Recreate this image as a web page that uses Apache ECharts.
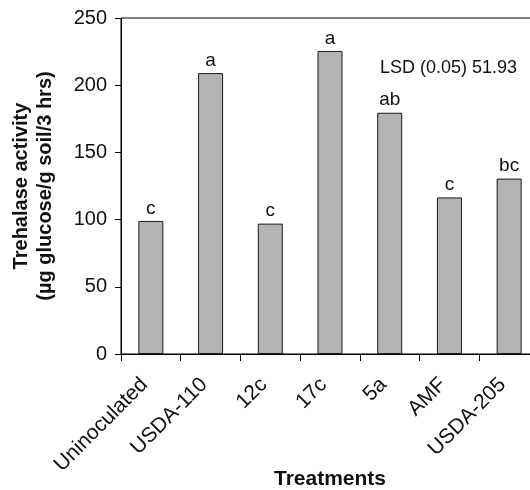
<!DOCTYPE html>
<html>
<head>
<meta charset="utf-8">
<script src="https://cdn.jsdelivr.net/npm/echarts@6/dist/echarts.min.js"></script>
<style>html,body{margin:0;padding:0;background:#fff;}#c{width:530px;height:490px;}</style>
</head>
<body>
<div id="c"></div>
<script>
const categories = ["Uninoculated", "USDA-110", "12c", "17c", "5a", "AMF", "USDA-205"];
const values = [99, 209, 97, 225.5, 179.5, 116.5, 130.5];
const letters = ["c", "a", "c", "a", "ab", "c", "bc"];
const yTicks = [0, 50, 100, 150, 200, 250];
const lsdText = "LSD (0.05) 51.93";

const FONT = "'Liberation Sans', Arial, Helvetica, sans-serif";
const chart = echarts.init(document.getElementById('c'), null, {renderer: 'canvas'});
chart.setOption({
  animation: false,
  backgroundColor: '#ffffff',
  grid: {left: 121, top: 18, bottom: 136, right: -9, containLabel: false, outerBoundsMode: 'none', show: true, borderColor: '#000', borderWidth: 1, backgroundColor: 'transparent'},
  xAxis: {
    type: 'category',
    data: categories,
    boundaryGap: true,
    axisLine: {lineStyle: {color: '#000', width: 1}},
    axisTick: {show: true, inside: false, length: 7, alignWithLabel: false, lineStyle: {color: '#000'}},
    axisLabel: {rotate: 45, fontSize: 21, color: '#111', fontFamily: FONT, margin: 21, padding: [0, 9, 0, 0], interval: 0},
    name: 'Treatments',
    nameLocation: 'middle',
    nameGap: 115,
    nameMoveOverlap: false,
    nameTextStyle: {fontSize: 21, fontWeight: 'bold', color: '#111', fontFamily: FONT}
  },
  yAxis: {
    type: 'value',
    min: yTicks[0],
    max: yTicks[yTicks.length - 1],
    interval: 50,
    splitLine: {show: false},
    axisLine: {show: true, lineStyle: {color: '#000', width: 1}},
    axisTick: {show: true, length: 6, lineStyle: {color: '#000'}},
    axisLabel: {fontSize: 20, color: '#111', fontFamily: FONT, margin: 14},
    name: 'Trehalase activity\n(µg glucose/g soil/3 hrs)',
    nameLocation: 'middle',
    nameRotate: 90,
    nameGap: 64,
    nameMoveOverlap: false,
    nameTextStyle: {fontSize: 20, fontWeight: 'bold', color: '#111', fontFamily: FONT, lineHeight: 24}
  },
  series: [{
    type: 'bar',
    data: values,
    barWidth: 25,
    itemStyle: {color: '#b3b3b3', borderColor: '#1a1a1a', borderWidth: 1},
    label: {
      show: true,
      position: 'top',
      distance: 3,
      fontSize: 19,
      color: '#111',
      fontFamily: FONT,
      formatter: p => letters[p.dataIndex]
    }
  }],
  graphic: [{
    type: 'text',
    left: 380,
    top: 59,
    style: {text: lsdText, fontSize: 18, fill: '#111', fontFamily: FONT}
  }]
});
</script>
</body>
</html>
